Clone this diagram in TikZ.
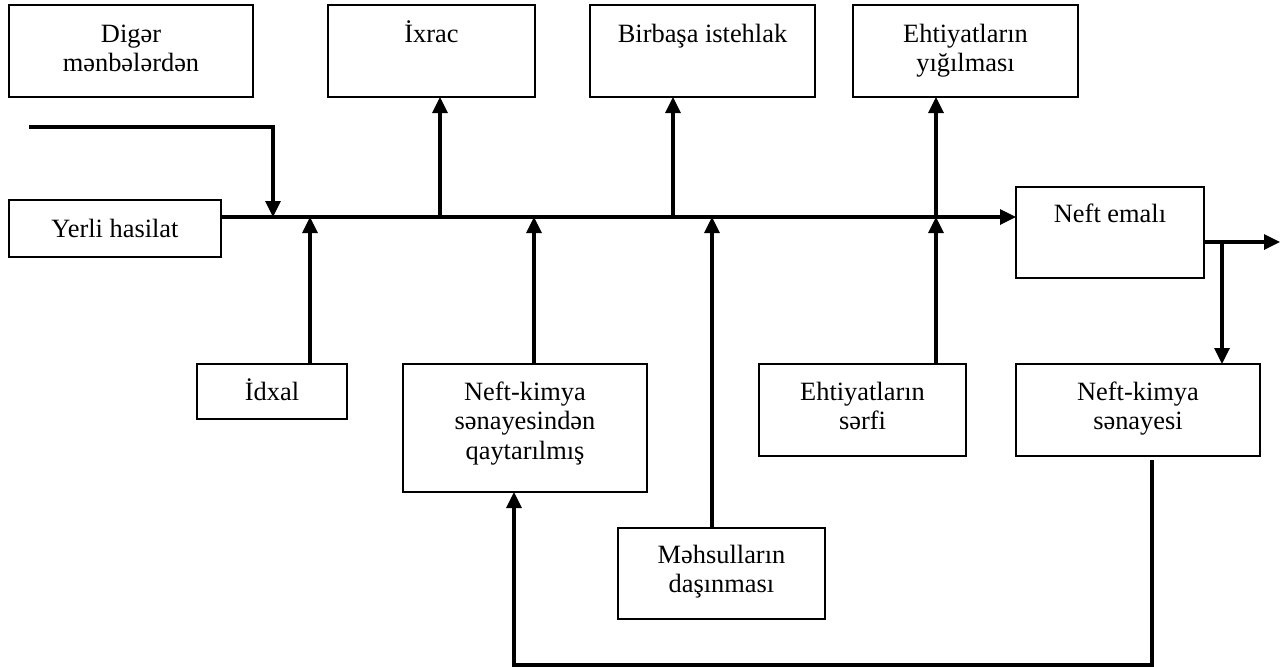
\documentclass[tikz,border=0pt]{standalone}
\usepackage{fontspec}
\setmainfont{Liberation Serif}
\usetikzlibrary{arrows.meta}

% a strut that fixes the height of the first text line in every box
\newcommand\lnstrut{\rule{0pt}{24pt}}
% \flowbox{name}{x1}{y1}{x2}{y2}: an empty framed box given by its corners
\newcommand\flowbox[5]{%
  \node[box, minimum width={#4pt-#2pt}, minimum height={#5pt-#3pt}]
    (#1) at ({(#2+#4)/2},{(#3+#5)/2}) {};}

\begin{document}
\begin{tikzpicture}[x=1pt, y=-1pt,
  box/.style={draw, line width=2.6pt, inner sep=0pt, outer sep=0pt},
  txt/.style={anchor=north, inner sep=0pt, align=center,
    font=\fontsize{26.4pt}{29.5pt}\selectfont},
  flow/.style={line width=3.3pt, -{Triangle[length=16pt, width=15pt]}},
  plain/.style={line width=3.3pt}]

\useasboundingbox (0,0) rectangle (1286,667);

% boxes
\flowbox{digar}{9}{5}{253}{97}
\flowbox{ixrac}{328}{5}{535}{97}
\flowbox{birbasa}{590}{5}{815}{97}
\flowbox{yigilma}{853}{5}{1078}{97}
\flowbox{yerli}{9}{200}{221}{257}
\flowbox{emali}{1016}{187}{1204}{278}
\flowbox{idxal}{197}{364}{347}{419}
\flowbox{nkq}{403}{364}{647}{492}
\flowbox{serf}{759}{364}{966}{456}
\flowbox{nks}{1016}{364}{1260}{456}
\flowbox{dasinma}{618}{528}{825}{619}

% box texts
\node[txt] (t-digar)   at ([yshift=-13pt]digar.north)   {\lnstrut Digər\\mənbələrdən};
\node[txt] (t-ixrac)   at ([yshift=-13pt]ixrac.north)   {\lnstrut İxrac};
\node[txt] (t-birbasa) at ([yshift=-13pt]birbasa.north) {\lnstrut Birbaşa istehlak};
\node[txt] (t-yigilma) at ([yshift=-13pt]yigilma.north) {\lnstrut Ehtiyatların\\yığılması};
\node[txt] (t-yerli)   at ([yshift=-13pt]yerli.north)   {\lnstrut Yerli hasilat};
\node[txt] (t-emali)   at ([yshift=-11pt]emali.north)   {\lnstrut Neft emalı};
\node[txt] (t-idxal)   at ([yshift=-12pt]idxal.north)   {\lnstrut İdxal};
\node[txt] (t-nkq)     at ([yshift=-12pt]nkq.north)     {\lnstrut Neft-kimya\\sənayesindən\\qaytarılmış};
\node[txt] (t-serf)    at ([yshift=-12pt]serf.north)    {\lnstrut Ehtiyatların\\sərfi};
\node[txt] (t-nks)     at ([yshift=-12pt]nks.north)     {\lnstrut Neft-kimya\\sənayesi};
\node[txt] (t-dasinma) at ([yshift=-11pt]dasinma.north) {\lnstrut Məhsulların\\daşınması};

% points on the main flow line and on the side routes
\coordinate (m)   at (0,217);
\coordinate (in0) at (29,127);
\coordinate (j0)  at (273,217);
\coordinate (a1)  at (310,217);
\coordinate (b1)  at (440,217);
\coordinate (a2)  at (534,217);
\coordinate (b2)  at (673,217);
\coordinate (a3)  at (712,217);
\coordinate (b3)  at (936,217);
\coordinate (e1)  at (1222,242);
\coordinate (out) at (1280,242);
\coordinate (r1)  at (1152,665);
\coordinate (r2)  at (514,665);

% main flow line
\draw[flow] (yerli.east |- m) -- (emali.west |- m);
% inflow from the other sources
\draw[flow] (in0) -| (j0);

% branches up to the consumers
\draw[flow] (b1) -- (b1 |- ixrac.south);
\draw[flow] (b2) -- (b2 |- birbasa.south);
\draw[flow] (b3) -- (b3 |- yigilma.south);

% feeds into the main line
\draw[flow] (a1 |- idxal.north) -- (a1);
\draw[flow] (a2 |- nkq.north) -- (a2);
\draw[flow] (a3 |- dasinma.north) -- (a3);
\draw[flow] (b3 |- serf.north) -- (b3);

% refinery output
\draw[flow] (emali.east |- e1) -- (out);
\draw[flow] (e1) -- (e1 |- nks.north);

% return from the petrochemical industry
\draw[flow] ([yshift=-4pt]r1 |- nks.south) -- (r1) -- (r2) -- (r2 |- nkq.south);
\end{tikzpicture}
\end{document}
